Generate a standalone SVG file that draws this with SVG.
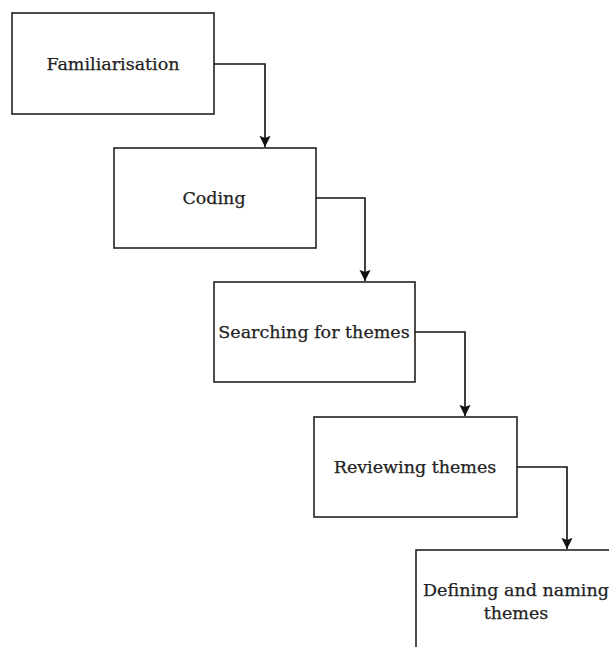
<svg xmlns="http://www.w3.org/2000/svg" width="609" height="647" viewBox="0 0 609 647">
<style>
.box{fill:#fff;stroke:#222;stroke-width:1.6}
.lbl{font-family:"DejaVu Serif","Liberation Serif",serif;font-size:17.5px;fill:#222;stroke:#222;stroke-width:0.25;text-anchor:middle}
.edge{fill:none;stroke:#111;stroke-width:1.6}
</style>
<defs>
<marker id="ah" viewBox="0 0 10 10" refX="10" refY="5" markerWidth="7" markerHeight="7" markerUnits="strokeWidth" orient="auto">
<path d="M0,0 L10,5 L0,10 L2,5 z" fill="#111"/>
</marker>
</defs>
<rect width="609" height="647" fill="#fff"/>
<g id="n1"><rect class="box" x="12" y="13" width="202" height="101"/><text class="lbl" x="113" y="70">Familiarisation</text></g>
<g id="n2"><rect class="box" x="114" y="148" width="202" height="100"/><text class="lbl" x="214" y="204">Coding</text></g>
<g id="n3"><rect class="box" x="214" y="282" width="201" height="100"/><text class="lbl" x="314" y="338">Searching for themes</text></g>
<g id="n4"><rect class="box" x="314" y="417" width="203" height="100"/><text class="lbl" x="415" y="473">Reviewing themes</text></g>
<g id="n5"><rect class="box" x="416" y="550" width="202" height="110"/><text class="lbl" x="516" y="596">Defining and naming</text><text class="lbl" x="516" y="619">themes</text></g>
<g id="edges">
<path class="edge" d="M214,64 H265 V147" marker-end="url(#ah)"/>
<path class="edge" d="M316,198 H365 V281" marker-end="url(#ah)"/>
<path class="edge" d="M415,332 H465 V416" marker-end="url(#ah)"/>
<path class="edge" d="M517,467 H567 V549" marker-end="url(#ah)"/>
</g>
</svg>
